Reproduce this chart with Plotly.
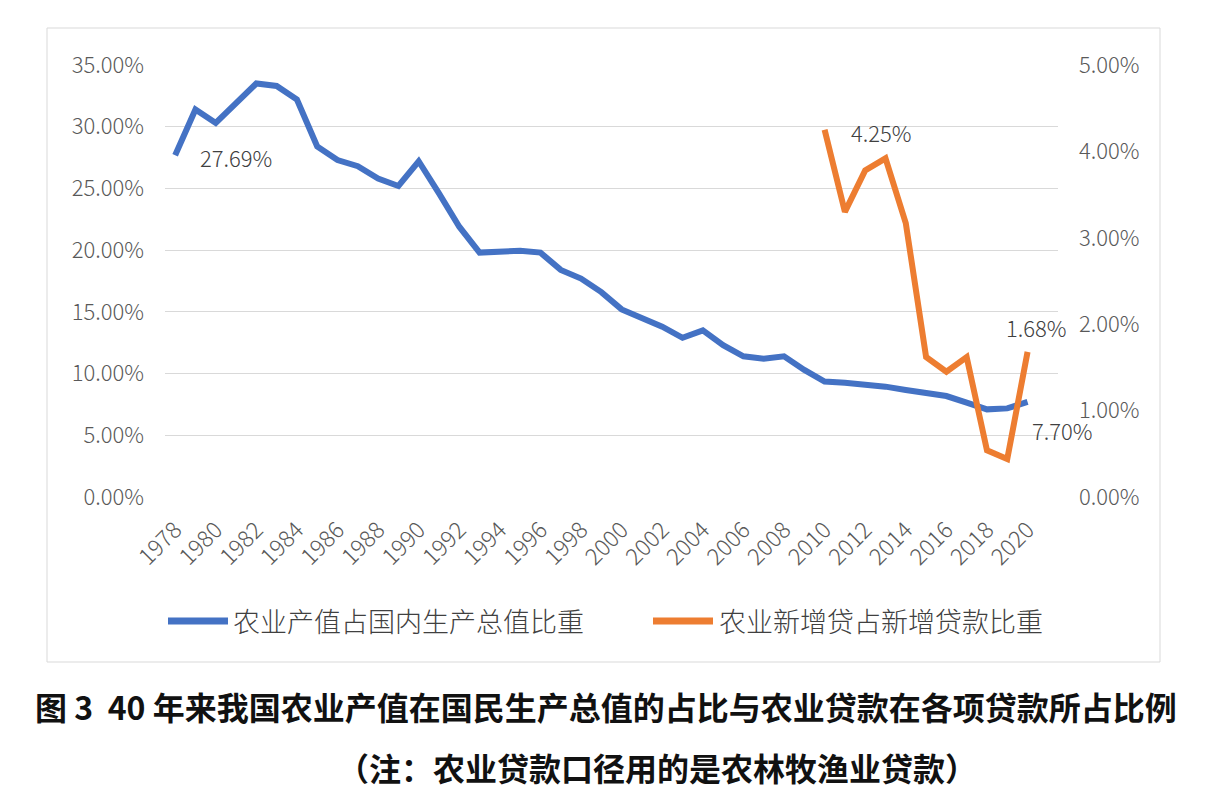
import plotly.graph_objects as go

years = list(range(1978, 2021))
agri_gdp_share = [27.69, 31.4, 30.3, 31.9, 33.5, 33.3, 32.2, 28.4, 27.3, 26.8,
                  25.8, 25.2, 27.2, 24.6, 21.9, 19.8, 19.9, 19.96, 19.8, 18.4,
                  17.7, 16.6, 15.2, 14.5, 13.8, 12.9, 13.5, 12.3, 11.4, 11.2,
                  11.4, 10.3, 9.35, 9.26, 9.15, 8.94, 8.67, 8.45, 8.18, 7.65,
                  7.1, 7.18, 7.70]
loan_years = list(range(2010, 2021))
agri_loan_share = [4.25, 3.30, 3.78, 3.92, 3.17, 1.62, 1.45, 1.62, 0.54, 0.44, 1.68]

x_ticks = list(range(1978, 2021, 2))
left_ticks = [0, 5, 10, 15, 20, 25, 30, 35]
right_ticks = [0, 1, 2, 3, 4, 5]

series1_name = "农业产值占国内生产总值比重"
series2_name = "农业新增贷占新增贷款比重"
title_text = "图 3  40 年来我国农业产值在国民生产总值的占比与农业贷款在各项贷款所占比例"
note_text = "（注：农业贷款口径用的是农林牧渔业贷款）"

BLUE = "#4472C4"
ORANGE = "#ED7D31"
TICK_COLOR = "#595959"
FONT = "Noto Sans CJK SC"
LIGHT = 300

fig = go.Figure()
fig.add_trace(go.Scatter(x=years, y=agri_gdp_share, mode="lines", name=series1_name,
                         line=dict(color=BLUE, width=6), yaxis="y"))
fig.add_trace(go.Scatter(x=loan_years, y=agri_loan_share, mode="lines", name=series2_name,
                         line=dict(color=ORANGE, width=6), yaxis="y2"))

lab_font = dict(size=22, color="#404040", family=FONT, weight=LIGHT)
ann = []
# data labels
ann.append(dict(x=years[0], y=agri_gdp_share[0], xref="x", yref="y",
                text=f"{agri_gdp_share[0]:.2f}%", showarrow=False, xanchor="left",
                xshift=23, yshift=-2, font=lab_font))
ann.append(dict(x=years[-1], y=agri_gdp_share[-1], xref="x", yref="y",
                text=f"{agri_gdp_share[-1]:.2f}%", showarrow=False, xanchor="left",
                xshift=2, yshift=-28, font=lab_font))
ann.append(dict(x=loan_years[0], y=agri_loan_share[0], xref="x", yref="y2",
                text=f"{agri_loan_share[0]:.2f}%", showarrow=False, xanchor="left",
                xshift=24, yshift=-2, font=lab_font))
ann.append(dict(x=loan_years[-1], y=agri_loan_share[-1], xref="x", yref="y2",
                text=f"{agri_loan_share[-1]:.2f}%", showarrow=False, xanchor="center",
                xshift=9, yshift=25, font=lab_font))

# paper coords helpers: plot area x 165..1058, y 65..497
def px_x(px):
    return (px - 165) / 893.0

def px_y(py):
    return (497 - py) / 432.0

shapes = []
shapes.append(dict(type="rect", xref="paper", yref="paper",
                   x0=px_x(47), x1=px_x(1160), y0=px_y(662), y1=px_y(28),
                   line=dict(color="#d9d9d9", width=1), fillcolor="rgba(0,0,0,0)", layer="below"))
shapes.append(dict(type="line", xref="paper", yref="paper",
                   x0=px_x(168), x1=px_x(228), y0=px_y(621), y1=px_y(621),
                   line=dict(color=BLUE, width=7)))
shapes.append(dict(type="line", xref="paper", yref="paper",
                   x0=px_x(653), x1=px_x(713), y0=px_y(621), y1=px_y(621),
                   line=dict(color=ORANGE, width=7)))
leg_font = dict(size=27, color="#404040", family=FONT, weight=LIGHT)
ann.append(dict(x=px_x(231), y=px_y(620), xref="paper", yref="paper", text=series1_name,
                showarrow=False, xanchor="left", yanchor="middle", font=leg_font))
ann.append(dict(x=px_x(717), y=px_y(620), xref="paper", yref="paper", text=series2_name,
                showarrow=False, xanchor="left", yanchor="middle", font=leg_font))
ann.append(dict(x=px_x(606), y=px_y(706), xref="paper", yref="paper", text="<b>" + title_text + "</b>",
                showarrow=False, xanchor="center", yanchor="middle",
                font=dict(size=32, color="#111111", family=FONT)))
ann.append(dict(x=px_x(657), y=px_y(767), xref="paper", yref="paper", text="<b>" + note_text + "</b>",
                showarrow=False, xanchor="center", yanchor="middle",
                font=dict(size=32, color="#111111", family=FONT)))

tick_font = dict(size=22, color=TICK_COLOR, family=FONT, weight=LIGHT)
xtick_font = dict(size=23, color=TICK_COLOR, family=FONT, weight=LIGHT)
fig.update_layout(
    width=1218, height=796,
    margin=dict(l=165, r=160, t=65, b=299),
    paper_bgcolor="white", plot_bgcolor="white",
    showlegend=False,
    font=dict(family=FONT, color=TICK_COLOR),
    xaxis=dict(range=[1977.5, 2021.5], tickmode="array", tickvals=x_ticks,
               ticktext=[str(t) for t in x_ticks], tickangle=-45,
               showgrid=False, zeroline=False, showline=False,
               ticklabelstandoff=14, tickfont=xtick_font),
    yaxis=dict(range=[0, 35], tickmode="array", tickvals=left_ticks,
               ticktext=[f"{v:.2f}%" for v in left_ticks],
               showgrid=True, gridcolor="#d9d9d9", gridwidth=1.3, zeroline=False,
               showline=False, ticklabelstandoff=20, tickfont=tick_font),
    yaxis2=dict(range=[0, 5], tickmode="array", tickvals=right_ticks,
                ticktext=[f"{v:.2f}%" for v in right_ticks],
                overlaying="y", side="right", showgrid=False, zeroline=False,
                showline=False, ticklabelstandoff=20, tickfont=tick_font),
    shapes=shapes,
    annotations=ann,
)

fig.write_html("out.html")
